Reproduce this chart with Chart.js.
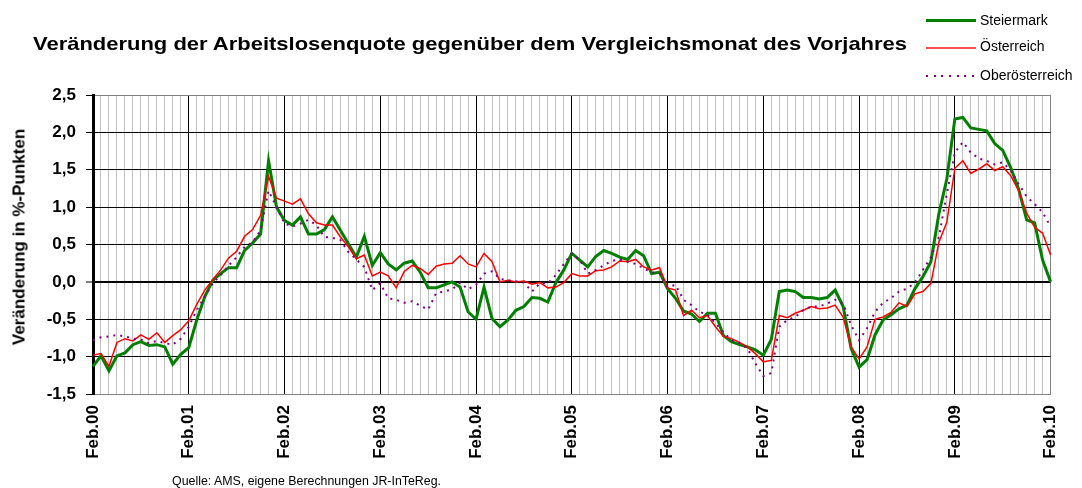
<!DOCTYPE html>
<html lang="de">
<head>
<meta charset="utf-8">
<title>Veränderung der Arbeitslosenquote</title>
<script src="https://cdn.jsdelivr.net/npm/chart.js@4.4.1/dist/chart.umd.min.js"></script>
<style>
    html, body { margin: 0; padding: 0; background: #fff; }
    #wrap { position: relative; width: 1082px; height: 488px; overflow: hidden;
            font-family: Arial, 'Liberation Sans', sans-serif; color: #000; }
    #chart { position: absolute; left: 0; top: 0; }
    .txt { position: absolute; white-space: nowrap; line-height: 1; transform-origin: 0 0; }
    #title { left: 33px; top: 34px; font-size: 19px; font-weight: bold; }
    #ytitle { left: 19px; top: 237px; font-size: 17px; font-weight: bold;
              transform: translate(-50%, -50%) rotate(-90deg); transform-origin: 50% 50%; }
    #source { left: 172px; top: 475px; font-size: 12px; }
    .leg-line { position: absolute; left: 926px; width: 50px; }
    .leg-text { position: absolute; left: 980px; font-size: 14px; line-height: 1; white-space: nowrap; }
</style>
</head>
<body>
<div id="wrap">
    <canvas id="chart" width="1082" height="488"></canvas>
    <div id="title" class="txt">Veränderung der Arbeitslosenquote gegenüber dem Vergleichsmonat des Vorjahres</div>
    <div id="ytitle" class="txt">Veränderung in %-Punkten</div>
    <div id="source" class="txt">Quelle: AMS, eigene Berechnungen JR-InTeReg.</div>

    <div class="leg-line" style="top:19px; border-top:3px solid #008000;"></div>
    <div class="leg-text" style="top:13px;">Steiermark</div>
    <div class="leg-line" style="top:47px; border-top:2px solid #ff5050;"></div>
    <div class="leg-text" style="top:39px;">Österreich</div>
    <div class="leg-line" style="top:75px; height:2px; background:repeating-linear-gradient(to right, #800080 0 2px, transparent 2px 7.7px);"></div>
    <div class="leg-text" style="top:68px;">Oberösterreich</div>
</div>

<script>
// Beschriftung der Jahresmarken (Februar jedes Jahres)
const yearLabels = ['Feb.00', 'Feb.01', 'Feb.02', 'Feb.03', 'Feb.04', 'Feb.05',
                    'Feb.06', 'Feb.07', 'Feb.08', 'Feb.09', 'Feb.10'];

// Veränderung in %-Punkten, monatlich Feb.00 bis Feb.10
const steiermark = [
    -1.13, -0.99, -1.19, -0.99, -0.95, -0.84, -0.80, -0.85, -0.84, -0.87, -1.10, -0.97,
    -0.88, -0.51, -0.20, 0.02, 0.11, 0.19, 0.19, 0.42, 0.52, 0.64, 1.62, 1.00,
    0.82, 0.76, 0.87, 0.64, 0.64, 0.70, 0.87, 0.69, 0.51, 0.33, 0.61, 0.22,
    0.39, 0.24, 0.16, 0.25, 0.28, 0.13, -0.08, -0.08, -0.04, 0.00, -0.07, -0.40,
    -0.50, -0.07, -0.49, -0.60, -0.51, -0.38, -0.33, -0.21, -0.22, -0.27, -0.01, 0.16,
    0.38, 0.29, 0.20, 0.34, 0.42, 0.38, 0.33, 0.30, 0.42, 0.35, 0.11, 0.13,
    -0.09, -0.22, -0.39, -0.43, -0.53, -0.42, -0.42, -0.72, -0.80, -0.84, -0.87, -0.91,
    -0.98, -0.77, -0.13, -0.11, -0.13, -0.21, -0.21, -0.23, -0.21, -0.11, -0.33, -0.89,
    -1.14, -1.04, -0.71, -0.51, -0.44, -0.36, -0.31, -0.09, 0.07, 0.27, 0.91, 1.38,
    2.18, 2.20, 2.06, 2.04, 2.02, 1.85, 1.76, 1.53, 1.24, 0.83, 0.79, 0.29,
    0.00
];

const oesterreich = [
    -0.98, -0.96, -1.13, -0.81, -0.76, -0.79, -0.71, -0.77, -0.68, -0.81, -0.72, -0.64,
    -0.52, -0.30, -0.11, 0.03, 0.16, 0.32, 0.41, 0.61, 0.70, 0.89, 1.41, 1.12,
    1.08, 1.04, 1.11, 0.91, 0.79, 0.76, 0.76, 0.60, 0.47, 0.31, 0.36, 0.08,
    0.13, 0.08, -0.08, 0.14, 0.22, 0.18, 0.10, 0.21, 0.24, 0.25, 0.35, 0.24,
    0.20, 0.38, 0.27, 0.00, 0.02, 0.00, 0.01, -0.03, -0.01, -0.08, -0.07, -0.01,
    0.11, 0.08, 0.08, 0.15, 0.16, 0.20, 0.28, 0.27, 0.30, 0.20, 0.16, 0.19,
    -0.08, -0.11, -0.45, -0.38, -0.48, -0.45, -0.60, -0.73, -0.76, -0.81, -0.87, -0.96,
    -1.07, -1.05, -0.45, -0.48, -0.42, -0.38, -0.33, -0.36, -0.35, -0.31, -0.47, -0.87,
    -1.03, -0.87, -0.50, -0.47, -0.41, -0.28, -0.33, -0.16, -0.13, -0.02, 0.53, 0.80,
    1.52, 1.62, 1.45, 1.51, 1.58, 1.49, 1.54, 1.42, 1.22, 0.92, 0.73, 0.65,
    0.36
];

const oberoesterreich = [
    -0.78, -0.74, -0.73, -0.71, -0.73, -0.76, -0.77, -0.82, -0.79, -0.82, -0.84, -0.76,
    -0.60, -0.38, -0.20, -0.02, 0.09, 0.22, 0.33, 0.47, 0.53, 0.69, 1.22, 1.00,
    0.78, 0.74, 0.78, 0.83, 0.76, 0.60, 0.59, 0.56, 0.40, 0.30, 0.20, -0.11,
    -0.02, -0.22, -0.24, -0.28, -0.26, -0.32, -0.37, -0.15, -0.13, -0.10, -0.01, -0.10,
    -0.04, 0.11, 0.14, 0.04, 0.02, 0.01, -0.01, -0.13, -0.02, -0.02, 0.09, 0.24,
    0.38, 0.29, 0.11, 0.16, 0.22, 0.28, 0.30, 0.27, 0.24, 0.18, 0.13, 0.11,
    -0.07, -0.04, -0.24, -0.31, -0.40, -0.44, -0.55, -0.67, -0.78, -0.82, -0.89, -1.09,
    -1.26, -1.22, -0.60, -0.51, -0.47, -0.38, -0.33, -0.33, -0.29, -0.24, -0.29, -0.58,
    -0.78, -0.62, -0.40, -0.28, -0.22, -0.13, -0.09, -0.01, 0.16, 0.33, 0.60, 1.18,
    1.73, 1.87, 1.73, 1.65, 1.62, 1.57, 1.60, 1.49, 1.31, 1.14, 1.04, 0.93,
    0.74
];

// Eine Kategorie pro Monat, beschriftet nur im Februar
const monthLabels = steiermark.map((v, i) => (i % 12 === 0 ? yearLabels[i / 12] : ''));

const fontFamily = "Arial, 'Liberation Sans', sans-serif";

// Text auf die Breite der Vorlage bringen
function fitWidth(id, target) {
    const el = document.getElementById(id);
    const w = el.getBoundingClientRect().width;
    if (w > 0) el.style.transform = 'scaleX(' + (target / w) + ')';
}
fitWidth('title', 874);
fitWidth('source', 269);

new Chart(document.getElementById('chart'), {
    type: 'line',
    data: {
        labels: monthLabels,
        datasets: [
            {
                label: 'Steiermark',
                data: steiermark,
                borderColor: '#008000',
                borderWidth: 3,
                pointRadius: 0,
                tension: 0,
                order: 3
            },
            {
                label: 'Österreich',
                data: oesterreich,
                borderColor: '#ff0000',
                borderWidth: 1.5,
                pointRadius: 0,
                tension: 0,
                order: 2
            },
            {
                label: 'Oberösterreich',
                data: oberoesterreich,
                borderColor: '#800080',
                borderWidth: 2,
                borderDash: [2, 5],
                pointRadius: 0,
                tension: 0,
                order: 1
            }
        ]
    },
    options: {
        responsive: false,
        animation: false,
        devicePixelRatio: 1,
        layout: {
            padding: { top: 95, right: 15, bottom: 0, left: 0 }
        },
        plugins: {
            legend: { display: false },
            title: { display: false },
            tooltip: { enabled: false }
        },
        scales: {
            x: {
                type: 'category',
                offset: false,
                afterFit: scale => { scale.height = 94; },
                grid: {
                    drawTicks: false,
                    lineWidth: 1,
                    color: ctx => {
                        if (ctx.index === 120) return '#808080';
                        return ctx.index % 12 === 0 ? '#000000' : '#c0c0c0';
                    }
                },
                border: { color: '#808080', width: 1 },
                ticks: {
                    autoSkip: false,
                    maxRotation: 90,
                    minRotation: 90,
                    padding: 11,
                    color: '#000',
                    font: { family: fontFamily, size: 17, weight: 'bold' }
                }
            },
            y: {
                min: -1.5,
                max: 2.5,
                afterFit: scale => { scale.width = 93; },
                grid: {
                    tickLength: 7,
                    tickColor: '#000',
                    tickWidth: 1,
                    lineWidth: ctx => (ctx.tick && ctx.tick.value === 0 ? 2 : 1),
                    color: ctx => {
                        const v = ctx.tick ? ctx.tick.value : 0;
                        return (v === 2.5 || v === -1.5) ? '#808080' : '#000000';
                    }
                },
                border: { color: '#000', width: 3 },
                ticks: {
                    stepSize: 0.5,
                    padding: 10,
                    color: '#000',
                    font: { family: fontFamily, size: 17, weight: 'bold' },
                    callback: v => v.toFixed(1).replace('.', ',')
                }
            }
        }
    }
});
</script>
</body>
</html>
